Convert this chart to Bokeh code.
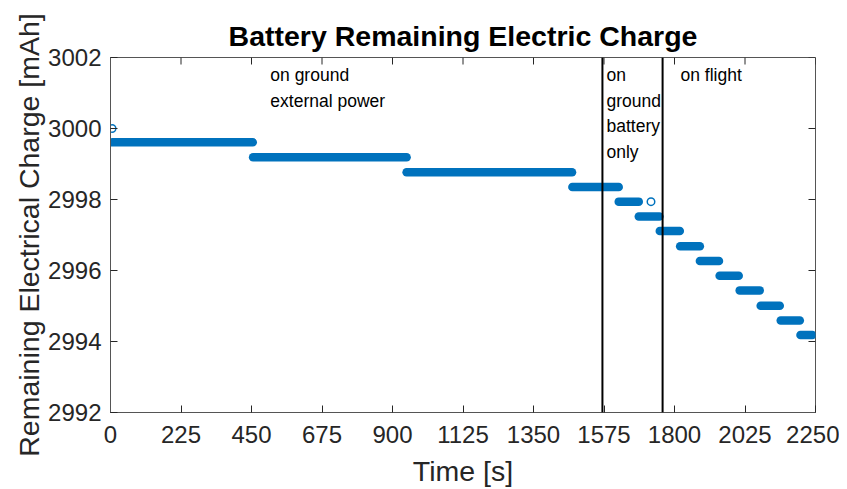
from bokeh.plotting import figure
from bokeh.models import ColumnDataSource, FixedTicker, Span, Range1d
from bokeh.core.properties import value
from bokeh.embed import file_html
from bokeh.resources import INLINE

# --- data ---
seg_start = [5, 455, 945, 1474, 1622, 1686, 1753, 1818, 1881, 1944, 2008, 2075, 2139, 2202]
seg_end = [454, 945, 1473, 1622, 1686, 1752, 1817, 1881, 1942, 2005, 2072, 2136, 2200, 2240]
seg_level = [2999.61, 2999.19, 2998.77, 2998.35, 2997.94, 2997.52, 2997.11,
             2996.68, 2996.27, 2995.85, 2995.44, 2995.01, 2994.59, 2994.18]
single_x = [5, 1725]
single_y = [3000.0, 2997.94]
phase_lines = [1570, 1762]
ann_x = [510, 1583, 1819]
ann_y = [3001.78, 3001.78, 3001.78]
ann_text = ["on ground\nexternal power", "on\nground\nbattery\nonly", "on flight"]
x_ticks = [0, 225, 450, 675, 900, 1125, 1350, 1575, 1800, 2025, 2250]
y_ticks = [2992, 2994, 2996, 2998, 3000, 3002]

X0, X1 = 0, 2250
Y0, Y1 = 2992, 3002
FW, FH = 705, 355
FONT = "Liberation Sans"
BLUE = "#0072BD"
AX = "#262626"
TICK_PX = 7

p = figure(frame_width=FW, frame_height=FH, output_backend="svg", toolbar_location=None,
           x_range=Range1d(X0, X1), y_range=Range1d(Y0, Y1),
           min_border_left=110, min_border_right=24, min_border_top=57, min_border_bottom=74,
           title="Battery Remaining Electric Charge")
p.background_fill_color = "white"
p.border_fill_color = "white"
p.grid.visible = False
p.outline_line_color = "#555555"
p.outline_line_width = 1

p.title.text_font = FONT
p.title.text_font_size = "28.5px"
p.title.text_font_style = "bold"
p.title.text_color = "black"
p.title.align = "center"
p.title.standoff = 12

seg_src = ColumnDataSource(dict(x0=seg_start, x1=seg_end, y=seg_level))
p.segment(x0="x0", y0="y", x1="x1", y1="y", source=seg_src,
          line_color=BLUE, line_width=8.5, line_cap="round")
p.scatter(single_x, single_y, marker="circle", size=7.5, fill_color="white",
          line_color=BLUE, line_width=1.5)

for xv in phase_lines:
    p.add_layout(Span(location=xv, dimension="height", line_color="black", line_width=2))

p.text(x=ann_x, y=ann_y, text=ann_text, text_font=value(FONT), text_font_size="17.5px",
       text_baseline="top", text_align="left", text_color="black", text_line_height=1.28)

# mirrored ticks on top and right edges (box on)
ty = TICK_PX * (Y1 - Y0) / FH
tx = TICK_PX * (X1 - X0) / FW
p.segment(x0=x_ticks, y0=[Y1] * len(x_ticks), x1=x_ticks, y1=[Y1 - ty] * len(x_ticks),
          line_color=AX, line_width=1)
p.segment(x0=[X1] * len(y_ticks), y0=y_ticks, x1=[X1 - tx] * len(y_ticks), y1=y_ticks,
          line_color=AX, line_width=1)

xa = p.xaxis[0]
ya = p.yaxis[0]
xa.ticker = FixedTicker(ticks=x_ticks)
ya.ticker = FixedTicker(ticks=y_ticks)
for ax in (xa, ya):
    ax.axis_line_color = "#555555"
    ax.axis_line_width = 1
    ax.major_tick_line_color = AX
    ax.major_tick_in = TICK_PX
    ax.major_tick_out = 0
    ax.minor_tick_line_color = None
    ax.major_label_text_font = FONT
    ax.major_label_text_color = AX
    ax.major_label_text_font_size = "24px"
    ax.axis_label_text_font = FONT
    ax.axis_label_text_font_size = "28.5px"
    ax.axis_label_text_font_style = "normal"
    ax.axis_label_text_color = AX
xa.major_label_standoff = 13
ya.major_label_standoff = 9
xa.axis_label = "Time [s]"
ya.axis_label = "Remaining Electrical Charge [mAh]"
xa.axis_label_standoff = 9
ya.axis_label_standoff = 0

open("out.html", "w").write(file_html(p, INLINE))
